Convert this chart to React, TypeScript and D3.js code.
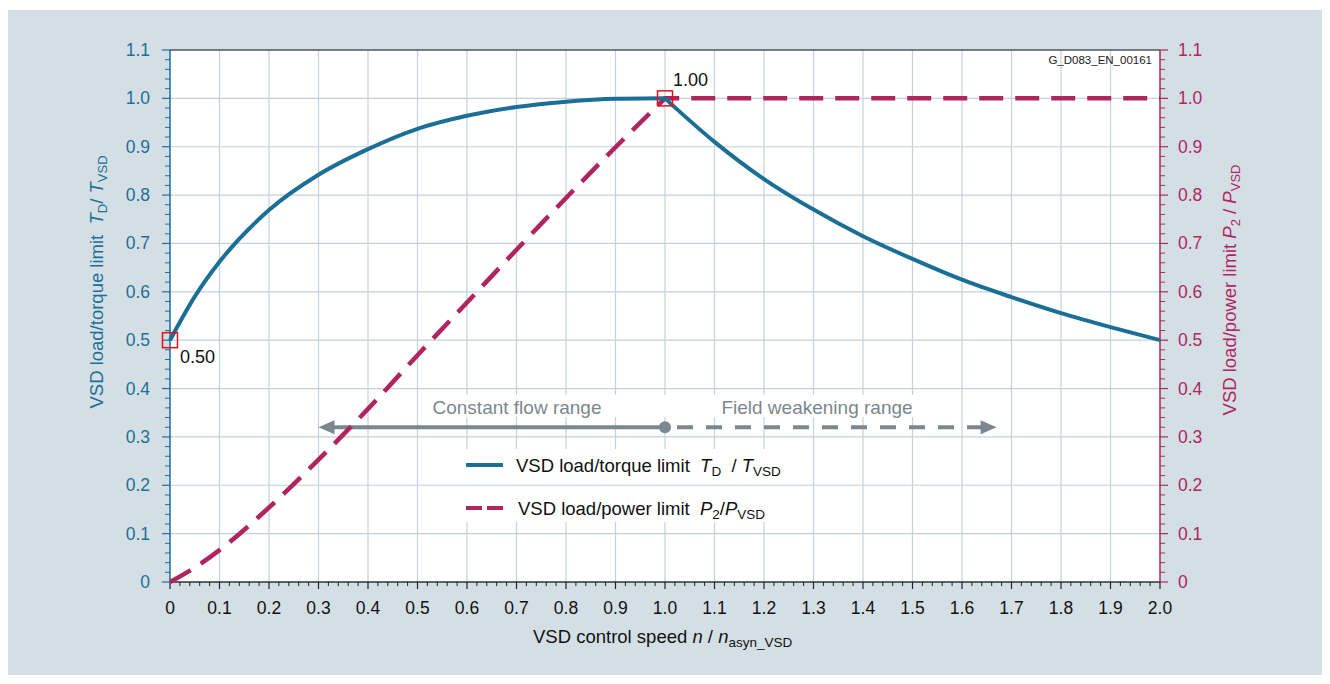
import React from "react";
import * as d3 from "d3";

// ---- data ----
const xTickLabels = ["0","0.1","0.2","0.3","0.4","0.5","0.6","0.7","0.8","0.9","1.0","1.1","1.2","1.3","1.4","1.5","1.6","1.7","1.8","1.9","2.0"];
const yTickLabels = ["0","0.1","0.2","0.3","0.4","0.5","0.6","0.7","0.8","0.9","1.0","1.1"];

// torque limit, constant flow range (0..1)
const torqueRiseX = [0, 0.05, 0.1, 0.2, 0.3, 0.4, 0.5, 0.6, 0.7, 0.8, 0.9, 1.0];
const torqueRiseY = [0.5, 0.59, 0.662, 0.769, 0.842, 0.895, 0.937, 0.964, 0.982, 0.993, 0.999, 1.0];
// torque limit, field weakening range (1..2)
const torqueFallX = [1.0, 1.1, 1.2, 1.3, 1.4, 1.5, 1.6, 1.7, 1.8, 1.9, 2.0];
const torqueFallY = [1.0, 0.91, 0.833, 0.77, 0.715, 0.668, 0.625, 0.589, 0.556, 0.527, 0.5];
// power limit
const powerRiseX = [0, 0.05, 0.1, 0.2, 0.3, 0.4, 0.5, 0.6, 0.7, 0.8, 0.9, 1.0];
const powerRiseY = [0, 0.03, 0.066, 0.154, 0.253, 0.358, 0.469, 0.578, 0.687, 0.794, 0.899, 1.0];
const powerFlatX = [1.0, 2.0];
const powerFlatY = [1.0, 1.0];

const markerPoints = [
  { x: 0, y: 0.5, label: "0.50" },
  { x: 1.0, y: 1.0, label: "1.00" },
];
const rangeArrowY = 0.32;
const rangeStart = 0.3;
const rangeMid = 1.0;
const rangeEnd = 1.67;

const BLUE = "#1b6f97";
const MAGENTA = "#b0255f";
const GREY = "#7a878e";
const GRID = "#c4d0da";
const BG = "#d4dfe5";
const FONT = "'Liberation Sans', Arial, sans-serif";

export default function App() {
  const x = d3.scaleLinear().domain([0, 2]).range([170, 1160]);
  const y = d3.scaleLinear().domain([0, 1.1]).range([582, 50]);

  const majorX = d3.range(0, 21).map((i) => i / 10);
  const minorX = d3.range(0, 101).map((i) => i / 50).filter((_, i) => i % 5 !== 0);
  const majorY = d3.range(0, 12).map((i) => i / 10);
  const minorY = d3.range(0, 56).map((i) => i / 50).filter((_, i) => i % 5 !== 0);

  const mono = d3
    .line<[number, number]>()
    .x((d) => x(d[0]))
    .y((d) => y(d[1]))
    .curve(d3.curveMonotoneX);
  const lin = d3
    .line<[number, number]>()
    .x((d) => x(d[0]))
    .y((d) => y(d[1]));

  const zip = (a: number[], b: number[]) => a.map((v, i) => [v, b[i]] as [number, number]);
  const torqueRise = mono(zip(torqueRiseX, torqueRiseY)) || "";
  const torqueFall = mono(zip(torqueFallX, torqueFallY)) || "";
  const powerPath =
    (mono(zip(powerRiseX, powerRiseY)) || "") +
    (lin(zip(powerFlatX, powerFlatY)) || "").replace(/^M/, "L");

  const ay = y(rangeArrowY);
  const ax0 = x(rangeStart);
  const axm = x(rangeMid);
  const ax1 = x(rangeEnd);

  return (
    <svg
      width={1330}
      height={684}
      style={{ position: "absolute", left: 0, top: 0, fontFamily: FONT }}
    >
      <rect x={8} y={10} width={1314} height={665} fill={BG} />
      <rect x={x(0)} y={y(1.1)} width={x(2) - x(0)} height={y(0) - y(1.1)} fill="#fff" />

      {/* vertical grid */}
      {majorX.slice(1, -1).map((v) => (
        <line key={"gx" + v} x1={x(v)} x2={x(v)} y1={y(1.1)} y2={y(0)} stroke={GRID} strokeWidth={1.2} />
      ))}

      {/* white boxes behind annotations */}
      <rect x={425} y={395} width={495} height={22} fill="#fff" />
      <rect x={455} y={449} width={345} height={73} fill="#fff" />

      {/* horizontal grid */}
      {majorY.slice(1, -1).map((v) => (
        <line key={"gy" + v} x1={x(0)} x2={x(2)} y1={y(v)} y2={y(v)} stroke={GRID} strokeWidth={1.2} />
      ))}

      {/* top border */}
      <line x1={x(0)} x2={x(2)} y1={y(1.1)} y2={y(1.1)} stroke="#555" strokeWidth={1.5} />

      {/* x axis */}
      <line x1={x(0)} x2={x(2)} y1={y(0)} y2={y(0)} stroke="#333" strokeWidth={1.5} />
      {majorX.map((v) => (
        <line key={"xt" + v} x1={x(v)} x2={x(v)} y1={y(0)} y2={y(0) + 7} stroke="#222" strokeWidth={1.2} />
      ))}
      {minorX.map((v) => (
        <line key={"xm" + v} x1={x(v)} x2={x(v)} y1={y(0)} y2={y(0) + 4} stroke="#222" strokeWidth={1} />
      ))}
      {majorX.map((v, i) => (
        <text key={"xl" + v} x={x(v)} y={614} fontSize={17.5} textAnchor="middle" fill="#111">
          {xTickLabels[i]}
        </text>
      ))}

      {/* left y axis */}
      <line x1={x(0)} x2={x(0)} y1={y(1.1)} y2={y(0)} stroke={BLUE} strokeWidth={1.5} />
      {majorY.map((v) => (
        <line key={"ylt" + v} x1={x(0) - 8} x2={x(0)} y1={y(v)} y2={y(v)} stroke={BLUE} strokeWidth={1.2} />
      ))}
      {minorY.map((v) => (
        <line key={"ylm" + v} x1={x(0) - 5} x2={x(0)} y1={y(v)} y2={y(v)} stroke={BLUE} strokeWidth={1} />
      ))}
      {majorY.map((v, i) => (
        <text key={"yll" + v} x={150} y={y(v) + 6} fontSize={17.5} textAnchor="end" fill={BLUE}>
          {yTickLabels[i]}
        </text>
      ))}

      {/* right y axis */}
      <line x1={x(2)} x2={x(2)} y1={y(1.1)} y2={y(0)} stroke={MAGENTA} strokeWidth={1.5} />
      {majorY.map((v) => (
        <line key={"yrt" + v} x1={x(2)} x2={x(2) + 8} y1={y(v)} y2={y(v)} stroke={MAGENTA} strokeWidth={1.2} />
      ))}
      {minorY.map((v) => (
        <line key={"yrm" + v} x1={x(2)} x2={x(2) + 5} y1={y(v)} y2={y(v)} stroke={MAGENTA} strokeWidth={1} />
      ))}
      {majorY.map((v, i) => (
        <text key={"yrl" + v} x={1178} y={y(v) + 6} fontSize={17.5} textAnchor="start" fill={MAGENTA}>
          {yTickLabels[i]}
        </text>
      ))}

      {/* axis titles */}
      <text
        transform={`translate(103,282) rotate(-90)`}
        fontSize={18.5}
        textAnchor="middle"
        fill={BLUE}
        style={{ whiteSpace: "pre" }}
      >
        <tspan>VSD load/torque limit  </tspan>
        <tspan fontStyle="italic">T</tspan>
        <tspan fontSize={13} dy={4}>D</tspan>
        <tspan dy={-4}>/ </tspan>
        <tspan fontStyle="italic">T</tspan>
        <tspan fontSize={13} dy={4}>VSD</tspan>
      </text>
      <text
        transform={`translate(1236,290) rotate(-90)`}
        fontSize={18.5}
        textAnchor="middle"
        fill={MAGENTA}
        style={{ whiteSpace: "pre" }}
      >
        <tspan>VSD load/power limit </tspan>
        <tspan fontStyle="italic">P</tspan>
        <tspan fontSize={13} dy={4}>2</tspan>
        <tspan dy={-4}> / </tspan>
        <tspan fontStyle="italic">P</tspan>
        <tspan fontSize={13} dy={4}>VSD</tspan>
      </text>
      <text x={533} y={643} fontSize={18.5} fill="#111" style={{ whiteSpace: "pre" }}>
        <tspan>VSD control speed </tspan>
        <tspan fontStyle="italic">n</tspan>
        <tspan> / </tspan>
        <tspan fontStyle="italic">n</tspan>
        <tspan fontSize={13.5} dy={4}>asyn_VSD</tspan>
      </text>

      {/* document id */}
      <text x={1152} y={64} fontSize={11.5} textAnchor="end" fill="#222">
        G_D083_EN_00161
      </text>

      {/* range arrow */}
      <text x={517} y={414} fontSize={19} textAnchor="middle" fill={GREY}>
        Constant flow range
      </text>
      <text x={817} y={414} fontSize={19} textAnchor="middle" fill={GREY}>
        Field weakening range
      </text>
      <line x1={ax0 + 10} x2={axm} y1={ay} y2={ay} stroke={GREY} strokeWidth={4} />
      <line x1={axm} x2={ax1 - 12} y1={ay} y2={ay} stroke={GREY} strokeWidth={4} strokeDasharray="16,13" strokeDashoffset={-12} />
      <path d={`M${ax0},${ay} L${ax0 + 16},${ay - 7} L${ax0 + 16},${ay + 7} Z`} fill={GREY} />
      <path d={`M${ax1},${ay} L${ax1 - 16},${ay - 7} L${ax1 - 16},${ay + 7} Z`} fill={GREY} />
      <circle cx={axm} cy={ay} r={6} fill={GREY} />

      {/* curves */}
      <path d={powerPath} fill="none" stroke={MAGENTA} strokeWidth={4.5} strokeDasharray="24,12" />
      <path d={torqueRise} fill="none" stroke={BLUE} strokeWidth={4} />
      <path d={torqueFall} fill="none" stroke={BLUE} strokeWidth={4} />

      {/* markers */}
      {markerPoints.map((p) => (
        <rect key={"m" + p.label} x={x(p.x) - 7.5} y={y(p.y) - 7.5} width={15} height={15} fill="none" stroke="#e2101a" strokeWidth={1.5} />
      ))}
      <text x={180} y={363} fontSize={18} fill="#111">{markerPoints[0].label}</text>
      <text x={673} y={86} fontSize={18} fill="#111">{markerPoints[1].label}</text>

      {/* legend */}
      <line x1={466} x2={503} y1={465} y2={465} stroke={BLUE} strokeWidth={4} />
      <text x={516} y={472} fontSize={18.5} fill="#111" style={{ whiteSpace: "pre" }}>
        <tspan>VSD load/torque limit  </tspan>
        <tspan fontStyle="italic">T</tspan>
        <tspan fontSize={13.5} dy={4}>D</tspan>
        <tspan dy={-4}>  / </tspan>
        <tspan fontStyle="italic">T</tspan>
        <tspan fontSize={13.5} dy={4}>VSD</tspan>
      </text>
      <line x1={466} x2={482} y1={508} y2={508} stroke={MAGENTA} strokeWidth={4} />
      <line x1={487} x2={503} y1={508} y2={508} stroke={MAGENTA} strokeWidth={4} />
      <text x={518} y={515} fontSize={18.5} fill="#111" style={{ whiteSpace: "pre" }}>
        <tspan>VSD load/power limit  </tspan>
        <tspan fontStyle="italic">P</tspan>
        <tspan fontSize={13.5} dy={4}>2</tspan>
        <tspan dy={-4}>/</tspan>
        <tspan fontStyle="italic">P</tspan>
        <tspan fontSize={13.5} dy={4}>VSD</tspan>
      </text>
    </svg>
  );
}
